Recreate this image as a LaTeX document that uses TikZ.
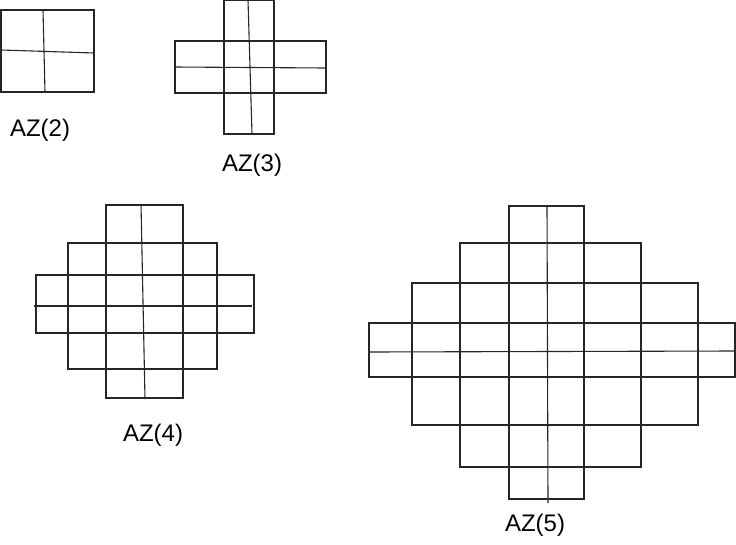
\documentclass[tikz,border=0pt]{standalone}
\usepackage{fontspec}
\setmainfont{Liberation Sans}
\begin{document}
\begin{tikzpicture}[x=1pt,y=-1pt,grid/.style={line width=1.1pt,draw=black!85},lbl/.style={font=\fontsize{24}{24}\selectfont}]
\useasboundingbox (0,0) rectangle (736,544);
% AZ(2)
\draw[grid] (1,10) rectangle (94,92);
\draw[grid] (43,10) -- (45,92);
\draw[grid] (1,50) -- (94,53);
\node[lbl] (l2) at (40,130) {AZ(2)};
% AZ(3)
\draw[grid] (224,0) rectangle (274,134);
\draw[grid] (175,41) rectangle (326,93);
\draw[grid] (224,41) -- (224,93) (274,41) -- (274,93);
\draw[grid] (248,0) -- (252,134);
\draw[grid] (175,67) -- (326,68);
\node[lbl] (l3) at (252,165) {AZ(3)};
% AZ(4)
\foreach \a/\b/\l/\r/\cols in {205/243/106/183/{},243/275/68/217/{106,183},275/333/36/254/{68,106,183,217},333/369/68/217/{106,183},369/398/106/183/{}}{
  \draw[grid] (\l,\a) rectangle (\r,\b);
  \foreach \c in \cols {\draw[grid] (\c,\a) -- (\c,\b);}
}
\draw[grid] (141,204) -- (145,399);
\draw[grid] (34,306) -- (252,306);
\node[lbl] (l4) at (153,435) {AZ(4)};
% AZ(5)
\foreach \a/\b/\l/\r/\cols in {206/243/509/584/{},243/283/460/641/{509,584},283/323/412/698/{460,509,584,641},323/377/369/735/{412,460,509,584,641,698},377/425/412/698/{460,509,584,641},425/467/460/641/{509,584},467/499/509/584/{}}{
  \draw[grid] (\l,\a) rectangle (\r,\b);
  \foreach \c in \cols {\draw[grid] (\c,\a) -- (\c,\b);}
}
\draw[grid] (547,205) -- (548,503);
\draw[grid] (369,352) -- (735,351);
\node[lbl] (l5) at (535,525) {AZ(5)};
\end{tikzpicture}
\end{document}
